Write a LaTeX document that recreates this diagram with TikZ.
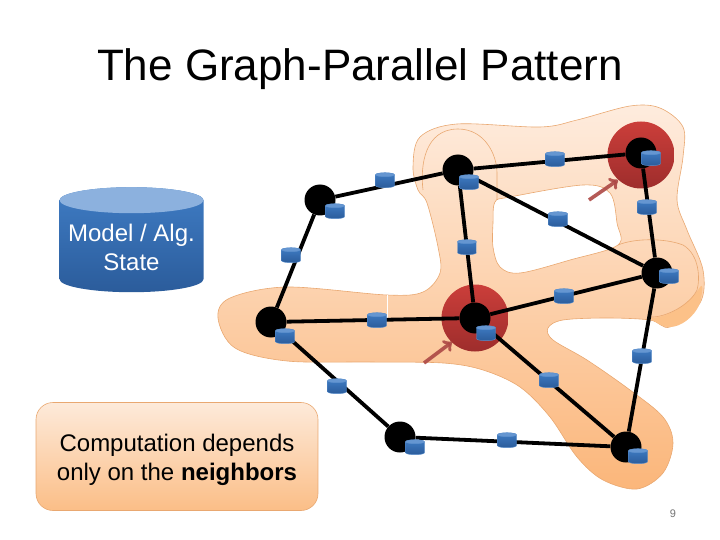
\documentclass[tikz,border=0pt]{standalone}
\usepackage{fontspec}
\setmainfont{Liberation Sans}
\usetikzlibrary{shapes.geometric}

\definecolor{blobline}{HTML}{E9A871}
\definecolor{hubred}{HTML}{C0504D}
\definecolor{hubtop}{HTML}{CB3E3A}
\definecolor{hubbot}{HTML}{9E2D2C}
\definecolor{storetop}{HTML}{3F7CC4}
\definecolor{storebot}{HTML}{2B5C9B}
\definecolor{storecap}{HTML}{8CB1DE}

\tikzset{
	vertex/.style={circle, fill=black, inner sep=0pt, minimum size=31pt},
	hub/.style={circle, inner sep=0pt, minimum size=67pt, top color=hubtop, bottom color=hubbot},
	link/.style={line width=3.8pt, black},
	pointer/.style={->, line width=3.6pt, hubred!90!black, opacity=.9},
	store/.style={cylinder, shape border rotate=90, inner sep=4pt, minimum width=19pt, minimum height=15pt, aspect=.5,
		anchor=north, yshift=7.5pt,
		top color=storetop, bottom color=storebot, draw=storetop!85!white, line width=.4pt,
		path picture={\fill[storecap!50!storetop] (path picture bounding box.north) ++(0,-2pt) ellipse[x radius=9.5pt, y radius=2pt];}},
	bigstore/.style={cylinder, shape border rotate=90, inner sep=20pt, minimum width=144pt, minimum height=105pt, aspect=.65,
		anchor=north,
		top color=storetop, bottom color=storebot,
		path picture={\fill[storecap] (path picture bounding box.north) ++(0,-13pt) ellipse[x radius=72pt, y radius=13pt];}},
}

\begin{document}
\begin{tikzpicture}[x=1pt, y=-1pt]
	\useasboundingbox (0,0) rectangle (720,540);

	\node (title) at (360,69) {\fontsize{44}{50}\selectfont The Graph-Parallel Pattern};

	% neighbourhood blob with its hole
	\path[even odd rule, draw=blobline, line width=.6pt, top color={rgb,255:red,254;green,236;blue,222}, bottom color={rgb,255:red,251;green,182;blue,122}]
	plot[smooth cycle, tension=.55] coordinates {(218,318) (230,298) (287,287) (387,295) (423,292) (440,273) (438,247) (427,203) (418,190) (413,167) (420,137) (457,124) (540,127) (577,120) (630,106) (660,108) (683,127) (683,157) (677,200) (687,230) (703,270) (700,303) (670,327) (650,320) (607,318) (563,320) (548,328) (553,340) (587,360) (630,390) (663,417) (673,443) (663,473) (637,489) (603,480) (577,457) (550,417) (520,387) (483,370) (443,363) (370,362) (287,361) (235,348)}
	plot[smooth cycle, tension=.55] coordinates {(495,202) (510,197) (583,185) (610,193) (617,223) (618,245) (570,260) (520,273) (500,267) (493,247) (493,223)};

	% darker rim and inner outlines
	\fill[orange!45!white!85!blobline] (698,290) .. controls (704,280) and (703,290) .. (700,303) .. controls (694,318) and (680,327) .. (670,327) .. controls (662,327) and (655,322) .. (650,318) .. controls (665,318) and (685,308) .. (698,290);
	\draw[blobline, line width=.6pt] (423,190) .. controls (420,165) and (425,129) .. (458,129) .. controls (485,129) and (497,155) .. (497,173) -- (497,200);
	\draw[blobline, line width=.6pt] (618,245) .. controls (635,238) and (665,238) .. (683,245) .. controls (700,255) and (700,280) .. (697,290) .. controls (690,305) and (665,318) .. (650,317);
	\draw[white, line width=.6pt] (387,295) -- (387,318);

	\node[hub] (hub_c) at (475,318) {};
	\node[hub] (hub_e) at (641,155) {};

	\node[vertex] (v_a) at (320,200) {};
	\node[vertex] (v_b) at (458,170) {};
	\node[vertex] (v_c) at (475,318) {};
	\node[vertex] (v_d) at (271,322) {};
	\node[vertex] (v_e) at (641,153) {};
	\node[vertex] (v_f) at (657,273) {};
	\node[vertex] (v_g) at (400,437) {};
	\node[vertex] (v_h) at (626,447) {};

	\path[link]
	(v_a) edge (v_b)
	(v_a) edge (v_d)
	(v_d) edge (v_c)
	(v_d) edge (v_g)
	(v_b) edge (v_c)
	(v_b) edge (v_e)
	(v_b) edge (v_f)
	(v_e) edge (v_f)
	(v_c) edge (v_f)
	(v_c) edge (v_h)
	(v_f) edge (v_h)
	(v_g) edge (v_h);

	% vertex data
	\node[store] (s_a) at (335,211) {};
	\node[store] (s_b) at (469,182) {};
	\node[store] (s_c) at (486,333) {};
	\node[store] (s_d) at (285,336) {};
	\node[store] (s_e) at (651,158) {};
	\node[store] (s_f) at (669,276) {};
	\node[store] (s_g) at (415,447) {};
	\node[store] (s_h) at (638,456) {};

	% edge data
	\node[store] (s_ab) at (385,180) {};
	\node[store] (s_ad) at (291,255) {};
	\node[store] (s_dc) at (377,320) {};
	\node[store] (s_dg) at (337,386) {};
	\node[store] (s_bc) at (467,247) {};
	\node[store] (s_be) at (555,159) {};
	\node[store] (s_bf) at (558,219) {};
	\node[store] (s_ef) at (647,207) {};
	\node[store] (s_cf) at (564,296) {};
	\node[store] (s_ch) at (549,380) {};
	\node[store] (s_fh) at (642,356) {};
	\node[store] (s_gh) at (507,440) {};

	\coordinate (p_0) at (589,200);
	\coordinate (q_0) at (618,180);
	\coordinate (p_1) at (424,363);
	\coordinate (q_1) at (452,342);
	\draw[pointer] (p_0) -- (q_0);
	\draw[pointer] (p_1) -- (q_1);

	\node[bigstore] (state) at (131.5,187) {};
	\node[text=white, align=center, font=\fontsize{24}{29}\selectfont] (state_text) at (131.5,247) {Model / Alg.\\State};

	\node[draw=blobline, line width=.6pt, rounded corners=17pt, minimum width=282pt, minimum height=108pt, top color={rgb,255:red,253;green,234;blue,218}, bottom color={rgb,255:red,251;green,190;blue,135}] (note) at (177,456.5) {};
	\node[align=center, font=\fontsize{24}{29}\selectfont] (note_text) at (177,460) {Computation depends\\only on the \textbf{neighbors}};

	\node[text=black!55, font=\fontsize{11}{13}\selectfont] (page) at (673,514) {9};
\end{tikzpicture}
\end{document}
